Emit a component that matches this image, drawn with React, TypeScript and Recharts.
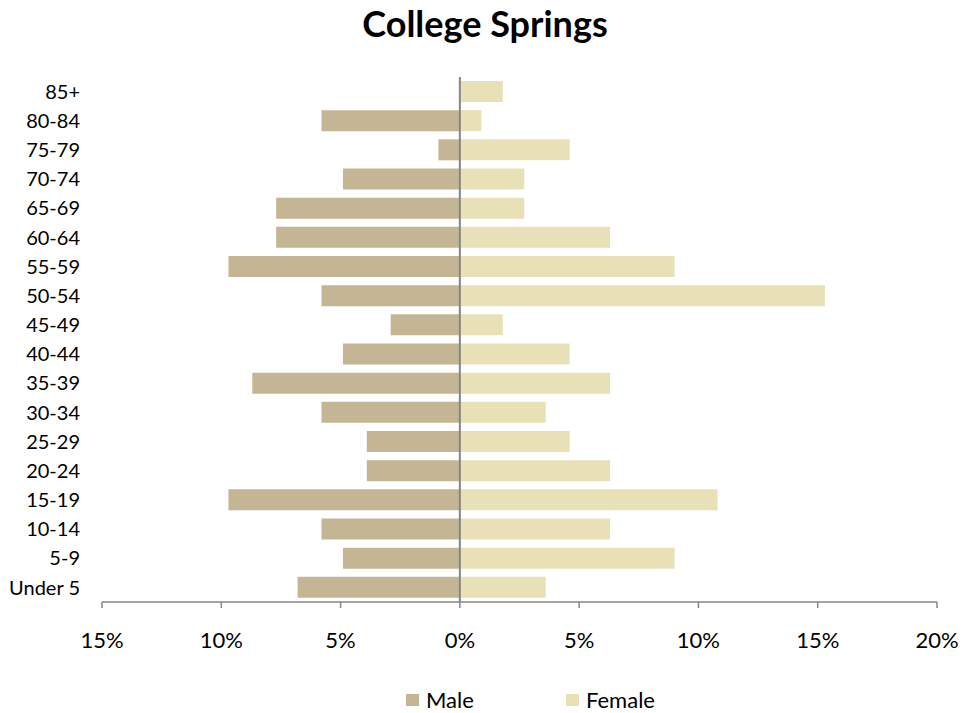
import React from 'react';
import { BarChart, Bar, XAxis, YAxis, ReferenceLine } from 'recharts';

const ageGroups = ['85+', '80-84', '75-79', '70-74', '65-69', '60-64', '55-59', '50-54', '45-49', '40-44', '35-39', '30-34', '25-29', '20-24', '15-19', '10-14', '5-9', 'Under 5'];
const maleValues = [0, 5.8, 0.9, 4.9, 7.7, 7.7, 9.7, 5.8, 2.9, 4.9, 8.7, 5.8, 3.9, 3.9, 9.7, 5.8, 4.9, 6.8];
const femaleValues = [1.8, 0.9, 4.6, 2.7, 2.7, 6.3, 9.0, 15.3, 1.8, 4.6, 6.3, 3.6, 4.6, 6.3, 10.8, 6.3, 9.0, 3.6];
const xTicks = [-15, -10, -5, 0, 5, 10, 15, 20];

const MALE_COLOR = '#C4B694';
const FEMALE_COLOR = '#E8E1B7';
const AXIS_COLOR = '#868686';
const FONT = 'Lato, "Open Sans", sans-serif';

export default function App() {
    // males go left of zero, so store them as negatives
    const data = ageGroups.map((group, i) => ({
        group,
        male: -maleValues[i],
        female: femaleValues[i],
    }));

    return (
        <div style={{ position: 'relative', width: 979, height: 713, fontFamily: FONT, background: '#fff' }}>
            <style>{`body { margin: 0; }`}</style>
            <div
                style={{
                    position: 'absolute',
                    top: 3,
                    left: 0,
                    width: 970,
                    textAlign: 'center',
                    fontSize: 36,
                    lineHeight: '40px',
                    fontWeight: 700,
                    color: '#000',
                }}
            >
                College Springs
            </div>
            <BarChart
                width={979}
                height={713}
                data={data}
                layout="vertical"
                stackOffset="sign"
                margin={{ top: 77, right: 42, left: 0, bottom: 71 }}
            >
                <XAxis
                    type="number"
                    domain={[-15, 20]}
                    ticks={xTicks}
                    height={40}
                    interval={0}
                    tickFormatter={(v) => `${Math.abs(v)}%`}
                    stroke={AXIS_COLOR}
                    strokeWidth={1.5}
                    tickSize={6}
                    tickMargin={24}
                    tick={{ fill: '#000', fontSize: 22, fontFamily: FONT }}
                />
                <YAxis
                    type="category"
                    dataKey="group"
                    width={102}
                    axisLine={false}
                    tickLine={false}
                    tickSize={0}
                    tickMargin={22}
                    interval={0}
                    tick={{ fill: '#000', fontSize: 20, fontFamily: FONT }}
                />
                <Bar dataKey="male" name="Male" stackId="pop" fill={MALE_COLOR} barSize={21} isAnimationActive={false} />
                <Bar dataKey="female" name="Female" stackId="pop" fill={FEMALE_COLOR} barSize={21} isAnimationActive={false} />
                <ReferenceLine x={0} stroke={AXIS_COLOR} strokeWidth={2} />
            </BarChart>
            <div
                style={{
                    position: 'absolute',
                    top: 686,
                    left: 406,
                    display: 'flex',
                    alignItems: 'center',
                    fontSize: 22,
                    color: '#000',
                    lineHeight: '28px',
                }}
            >
                <span style={{ width: 13, height: 12, background: MALE_COLOR, marginRight: 7 }} />
                <span style={{ width: 140 }}>Male</span>
                <span style={{ width: 13, height: 12, background: FEMALE_COLOR, marginRight: 7 }} />
                <span>Female</span>
            </div>
        </div>
    );
}
